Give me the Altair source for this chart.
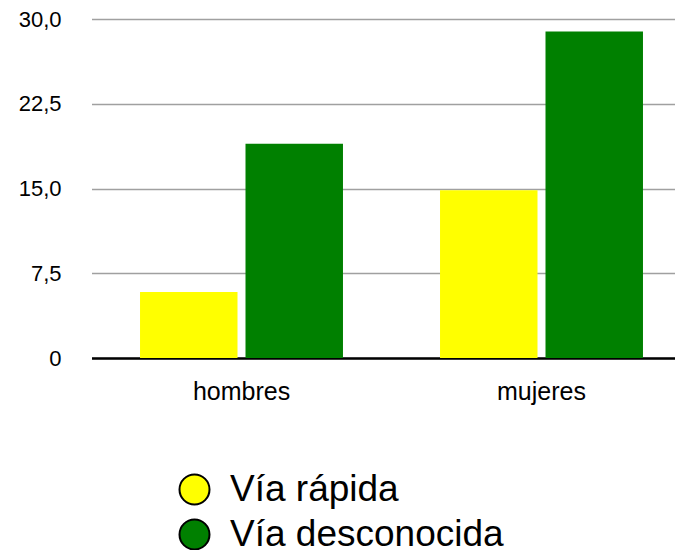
import altair as alt
import pandas as pd

grupos = ["hombres", "mujeres"]
series = ["Vía rápida", "Vía desconocida"]
via_rapida = [5.85, 14.85]
via_desconocida = [18.95, 28.9]
y_ticks = [0, 7.5, 15, 22.5, 30]
bar_colors = ["#ffff00", "#008000"]

rows = []
for i, g in enumerate(grupos):
    rows.append({"grupo": g, "serie": series[0], "valor": via_rapida[i]})
    rows.append({"grupo": g, "serie": series[1], "valor": via_desconocida[i]})
df = pd.DataFrame(rows)

FONT = "Liberation Sans"

x_enc = alt.X(
    "grupo:N",
    sort=grupos,
    scale=alt.Scale(range=[-1.5, 598.5], paddingInner=0, paddingOuter=0),
    axis=alt.Axis(
        title=None, labelAngle=0, ticks=False, domainColor="black", domainWidth=2.5,
        labelFont=FONT, labelFontSize=25, labelColor="black", labelPadding=21, grid=False,
    ),
)

y_enc = alt.Y(
    "valor:Q",
    scale=alt.Scale(domain=[0, 30], nice=False),
    axis=alt.Axis(
        values=y_ticks,
        labelExpr="datum.value == 0 ? '0' : replace(format(datum.value, '.1f'), '.', ',')",
        title=None, domain=False, ticks=False, tickSize=0, labelPadding=32,
        labelFont=FONT, labelFontSize=22, labelColor="black",
        gridColor="#a0a0a0", gridWidth=1.5,
    ),
)

chart = alt.Chart(df).mark_bar().encode(
    x=x_enc,
    xOffset=alt.XOffset("serie:N", sort=series,
                        scale=alt.Scale(paddingInner=0.0758, paddingOuter=0.46)),
    y=y_enc,
    fill=alt.Fill(
        "serie:N", sort=series,
        scale=alt.Scale(domain=series, range=bar_colors),
        legend=alt.Legend(
            title=None, orient="none", legendX=83, legendY=452,
            symbolType="circle", symbolSize=900, symbolStrokeColor="black",
            symbolStrokeWidth=2, symbolOpacity=1,
            labelFont=FONT, labelFontSize=37, labelColor="black",
            labelOffset=17, rowPadding=6, padding=0, labelLimit=500,
        ),
    ),
).properties(
    width=582, height=339,
    autosize=alt.AutoSizeParams(type="none"),
    padding={"left": 85, "top": 11, "right": 0, "bottom": 192},
    background="white",
).configure_view(stroke=None)

chart.save("out.html", embed_options={"renderer": "svg", "actions": False})
